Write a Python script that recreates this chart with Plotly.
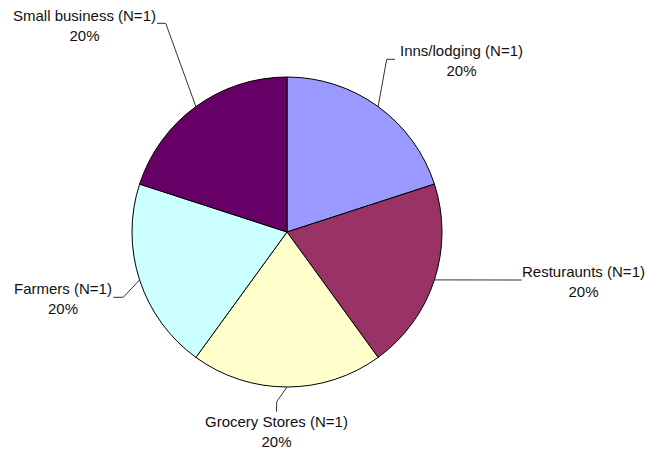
import math
import plotly.graph_objects as go

categories = ["Inns/lodging (N=1)", "Resturaunts (N=1)", "Grocery Stores (N=1)",
              "Farmers (N=1)", "Small business (N=1)"]
values = [1, 1, 1, 1, 1]
colors = ["#9999FF", "#993366", "#FFFFCC", "#CCFFFF", "#660066"]

W, H = 647, 449
CX, CY, R = 287, 232, 155  # pie centre / radius in pixels (layout)

# label layout: text centre (px), elbow point (px), line end (px)
label_layout = [
    dict(text=(461, 60), elbow=(386.7, 59.3), end=(395, 59.3)),
    dict(text=(583.3, 281), elbow=None, end=(521.7, 280)),
    dict(text=(276.3, 431.5), elbow=(276.7, 401.7), end=(276.5, 411.7)),
    dict(text=(62.5, 298), elbow=(123.3, 297.3), end=(113.3, 297.3)),
    dict(text=(84.7, 25), elbow=(165.7, 23.3), end=(157, 23.3)),
]

def px(x):
    return x / W

def py(y):
    return 1 - y / H

fig = go.Figure(go.Pie(
    labels=categories,
    values=values,
    sort=False,
    direction="clockwise",
    rotation=0,
    textinfo="none",
    hoverinfo="label+percent",
    marker=dict(colors=colors, line=dict(color="#000000", width=1)),
    domain=dict(x=[px(CX - R), px(CX + R)], y=[py(CY + R), py(CY - R)]),
    showlegend=False,
))

total = sum(values)
cum = 0
shapes = []
annotations = []
for cat, v, lay in zip(categories, values, label_layout):
    theta = 2 * math.pi * (cum + v / 2) / total
    cum += v
    ex = CX + R * math.sin(theta)
    ey = CY - R * math.cos(theta)
    pts = [(ex, ey)]
    if lay["elbow"] is not None:
        pts.append(lay["elbow"])
    pts.append(lay["end"])
    path = "M " + " L ".join(f"{px(a):.5f},{py(b):.5f}" for a, b in pts)
    shapes.append(dict(type="path", path=path, xref="paper", yref="paper",
                       line=dict(color="#333333", width=1)))
    pct = f"{round(100 * v / total)}%"
    annotations.append(dict(
        x=px(lay["text"][0]), y=py(lay["text"][1]), xref="paper", yref="paper",
        text=f"{cat}<br>{pct}", showarrow=False, align="center",
        xanchor="center", yanchor="middle",
        font=dict(family="Liberation Sans, Arial, sans-serif", size=15, color="#111111"),
    ))

fig.update_layout(
    width=W, height=H,
    margin=dict(l=0, r=0, t=0, b=0),
    paper_bgcolor="white", plot_bgcolor="white",
    shapes=shapes, annotations=annotations,
)

fig.write_html(
    "out.html",
    config={"displayModeBar": False},
    post_script="document.body.style.margin='0px';document.body.style.overflow='hidden';",
)
